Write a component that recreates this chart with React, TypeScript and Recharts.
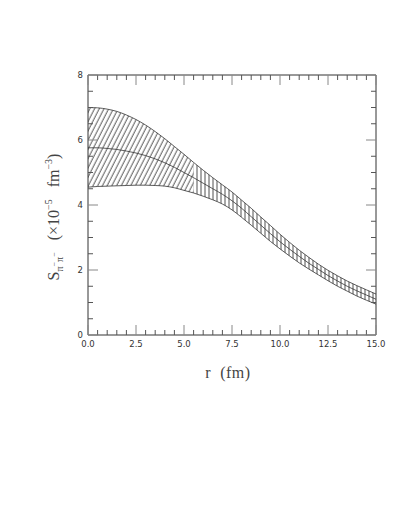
import React from 'react';
import { ComposedChart, Area, Line, XAxis, YAxis } from 'recharts';

// r in fm
const radius = [
  0, 0.5, 1, 1.5, 2, 2.5, 3, 3.5, 4, 4.5, 5, 5.5, 6, 6.5, 7, 7.5,
  8, 8.5, 9, 9.5, 10, 10.5, 11, 11.5, 12, 12.5, 13, 13.5, 14, 14.5, 15,
];
// S (x10^-5 fm^-3), upper edge of the band
const upper = [
  7.0, 6.99, 6.95, 6.88, 6.77, 6.63, 6.46, 6.26, 6.04, 5.8, 5.56, 5.31, 5.07, 4.84, 4.62, 4.4,
  4.15, 3.9, 3.63, 3.37, 3.1, 2.85, 2.61, 2.39, 2.18, 1.99, 1.82, 1.66, 1.52, 1.39, 1.26,
];
// central curve
const central = [
  5.76, 5.76, 5.74, 5.71, 5.66, 5.6, 5.52, 5.42, 5.3, 5.16, 5.0, 4.84, 4.67, 4.5, 4.33, 4.13,
  3.9, 3.64, 3.38, 3.12, 2.87, 2.64, 2.42, 2.21, 2.02, 1.83, 1.66, 1.5, 1.36, 1.23, 1.1,
];
// lower edge of the band
const lower = [
  4.55, 4.57, 4.58, 4.59, 4.6, 4.61, 4.61, 4.6, 4.58, 4.53, 4.45, 4.37, 4.27, 4.16, 4.03, 3.85,
  3.62, 3.38, 3.13, 2.88, 2.65, 2.43, 2.22, 2.03, 1.85, 1.67, 1.5, 1.35, 1.2, 1.07, 0.95,
];

// hatching changes from diagonal to vertical here
const SPLIT_R = 5.5;

const xTicks = Array.from({ length: 31 }, (_, i) => i * 0.5);
const yTicks = Array.from({ length: 17 }, (_, i) => i * 0.5);

const data = radius.map((r, i) => ({
  r,
  upper: upper[i],
  mid: central[i],
  lower: lower[i],
  bandLeft: r <= SPLIT_R ? [lower[i], upper[i]] : undefined,
  bandRight: r >= SPLIT_R ? [lower[i], upper[i]] : undefined,
}));

const TICK_FONT = '"DejaVu Sans", sans-serif';
const LABEL_FONT = '"Liberation Serif", "DejaVu Serif", serif';

const makeTick = (side: 'bottom' | 'top' | 'left' | 'right') => (props: any) => {
  const { x, y, payload } = props;
  const v = payload.value;
  const horizontal = side === 'bottom' || side === 'top';
  const major = horizontal ? v % 2.5 === 0 : v % 2 === 0;
  const len = major ? 10 : 5;
  const color = major ? '#888' : '#555';
  let line;
  if (side === 'bottom') line = <line x1={x} y1={y} x2={x} y2={y - len} stroke={color} strokeWidth={1} />;
  else if (side === 'top') line = <line x1={x} y1={y} x2={x} y2={y + len} stroke={color} strokeWidth={1} />;
  else if (side === 'left') line = <line x1={x} y1={y} x2={x + len} y2={y} stroke={color} strokeWidth={1} />;
  else line = <line x1={x} y1={y} x2={x - len} y2={y} stroke={color} strokeWidth={1} />;

  let label = null;
  if (major && side === 'bottom') {
    label = (
      <text x={x} y={y + 12} textAnchor="middle" fontSize={8.5} fill="#333" fontFamily={TICK_FONT}>
        {v.toFixed(1)}
      </text>
    );
  } else if (major && side === 'left') {
    label = (
      <text x={x - 5} y={y + 3} textAnchor="end" fontSize={8.5} fill="#333" fontFamily={TICK_FONT}>
        {v}
      </text>
    );
  }
  return (
    <g>
      {line}
      {label}
    </g>
  );
};

const YTitle = ({ viewBox }: any) => {
  const cx = viewBox.x - 28;
  const cy = viewBox.y + viewBox.height / 2 + 12;
  return (
    <text
      x={cx}
      y={cy}
      transform={`rotate(-90 ${cx} ${cy})`}
      textAnchor="middle"
      fontSize={16}
      fill="#444"
      fontFamily={LABEL_FONT}
      style={{ whiteSpace: 'pre' }}
    >
      <tspan>S</tspan>
      <tspan fontSize={10} dy={4}>π</tspan>
      <tspan fontSize={8} dy={-6}>−</tspan>
      <tspan fontSize={10} dy={6}>π</tspan>
      <tspan fontSize={8} dy={-6}>−</tspan>
      <tspan dy={2}>{'   (×10'}</tspan>
      <tspan fontSize={10} dy={-7}>−5</tspan>
      <tspan dy={7}>{'   fm'}</tspan>
      <tspan fontSize={10} dy={-7}>−3</tspan>
      <tspan dy={7}>)</tspan>
    </text>
  );
};

const XTitle = ({ viewBox }: any) => (
  <text
    x={viewBox.x + viewBox.width / 2 - 4}
    y={viewBox.y + 43}
    textAnchor="middle"
    fontSize={16}
    letterSpacing={0.5}
    fill="#444"
    fontFamily={LABEL_FONT}
    style={{ whiteSpace: 'pre' }}
  >
    {'r  (fm)'}
  </text>
);

export default function App() {
  return (
    <ComposedChart
      width={380}
      height={400}
      data={data}
      margin={{ top: 66, right: 11, bottom: 72, left: 79 }}
    >
      <defs>
        <pattern id="hatchDiag" patternUnits="userSpaceOnUse" width={4.2} height={10} patternTransform="rotate(27)">
          <line x1={1} y1={0} x2={1} y2={10} stroke="#222" strokeWidth={0.8} />
        </pattern>
        <pattern id="hatchVert" patternUnits="userSpaceOnUse" width={4} height={10}>
          <line x1={1} y1={0} x2={1} y2={10} stroke="#222" strokeWidth={0.8} />
        </pattern>
      </defs>
      <XAxis
        xAxisId="b"
        dataKey="r"
        type="number"
        domain={[0, 15]}
        ticks={xTicks}
        interval={0}
        height={1}
        tickSize={0}
        tickMargin={0}
        tickLine={false}
        axisLine={{ stroke: '#333' }}
        tick={makeTick('bottom')}
        label={{ content: XTitle }}
      />
      <XAxis
        xAxisId="t"
        dataKey="r"
        orientation="top"
        type="number"
        domain={[0, 15]}
        ticks={xTicks}
        interval={0}
        height={1}
        tickSize={0}
        tickMargin={0}
        tickLine={false}
        axisLine={{ stroke: '#333' }}
        tick={makeTick('top')}
      />
      <YAxis
        yAxisId="l"
        type="number"
        domain={[0, 8]}
        ticks={yTicks}
        interval={0}
        width={1}
        tickSize={0}
        tickMargin={0}
        tickLine={false}
        axisLine={{ stroke: '#333' }}
        tick={makeTick('left')}
        label={{ content: YTitle }}
      />
      <YAxis
        yAxisId="r"
        orientation="right"
        type="number"
        domain={[0, 8]}
        ticks={yTicks}
        interval={0}
        width={1}
        tickSize={0}
        tickMargin={0}
        tickLine={false}
        axisLine={{ stroke: '#333' }}
        tick={makeTick('right')}
      />
      <Area
        xAxisId="b"
        yAxisId="l"
        dataKey="bandLeft"
        type="monotone"
        stroke="none"
        fill="url(#hatchDiag)"
        fillOpacity={1}
        isAnimationActive={false}
      />
      <Area
        xAxisId="b"
        yAxisId="l"
        dataKey="bandRight"
        type="monotone"
        stroke="none"
        fill="url(#hatchVert)"
        fillOpacity={1}
        isAnimationActive={false}
      />
      <Line xAxisId="b" yAxisId="l" dataKey="upper" type="monotone" stroke="#333" strokeWidth={0.8} dot={false} isAnimationActive={false} />
      <Line xAxisId="t" yAxisId="r" dataKey="mid" type="monotone" stroke="#333" strokeWidth={0.8} dot={false} isAnimationActive={false} />
      <Line xAxisId="b" yAxisId="l" dataKey="lower" type="monotone" stroke="#333" strokeWidth={0.8} dot={false} isAnimationActive={false} />
    </ComposedChart>
  );
}
